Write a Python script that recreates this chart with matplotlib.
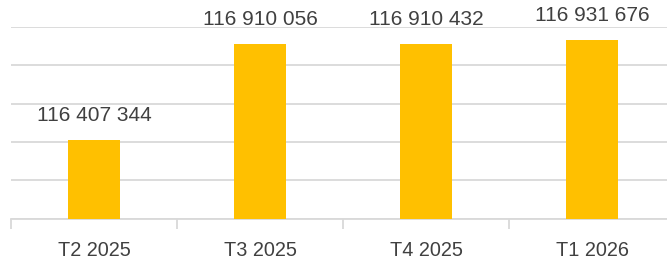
import matplotlib
matplotlib.use("Agg")
import matplotlib.pyplot as plt
import numpy as np

categories = ["T2 2025", "T3 2025", "T4 2025", "T1 2026"]
values = [116407344, 116910056, 116910432, 116931676]
labels = ["116 407 344", "116 910 056", "116 910 432", "116 931 676"]
y_min, y_max, y_step = 116000000, 117000000, 200000

plt.rcParams['font.family'] = ['Liberation Sans', 'DejaVu Sans']

fig = plt.figure(figsize=(6.67, 2.56), dpi=100)
W, H = 667, 256
left, right = 11, 675
top, bottom = 27, 218.5
ax = fig.add_axes([left / W, (H - bottom) / H, (right - left) / W, (bottom - top) / H])

x = np.arange(len(categories))
ax.bar(x, [v - y_min for v in values], bottom=y_min, width=0.313, color="#FFC000", zorder=3)
ax.set_xlim(-0.5, len(categories) - 0.5)
ax.set_ylim(y_min, y_max)
ax.set_yticks(np.arange(y_min, y_max + 1, y_step))
ax.yaxis.grid(True, color="#D9D9D9", linewidth=1.3, zorder=0)
ax.tick_params(axis="y", left=False, labelleft=False)
for s in ["top", "right", "left"]:
    ax.spines[s].set_visible(False)
ax.spines["bottom"].set_color("#D9D9D9")
ax.spines["bottom"].set_linewidth(1.3)

ax.set_xticks(np.arange(-0.5, len(categories), 1.0), minor=False)
ax.set_xticklabels([])
ax.tick_params(axis="x", which="major", length=7, width=1.3, color="#D9D9D9")
ax.set_xticks(x, minor=True)
ax.set_xticklabels(categories, minor=True)
ax.tick_params(axis="x", which="minor", length=0, pad=16, labelsize=14.3, labelcolor="#404040")

for xi, v, lab in zip(x, values, labels):
    ax.annotate(lab, (xi, v), xytext=(0, 13.7), textcoords="offset points",
                ha="center", va="baseline", fontsize=15, color="#404040",
                annotation_clip=False)

fig.savefig("out.png", dpi=100)
